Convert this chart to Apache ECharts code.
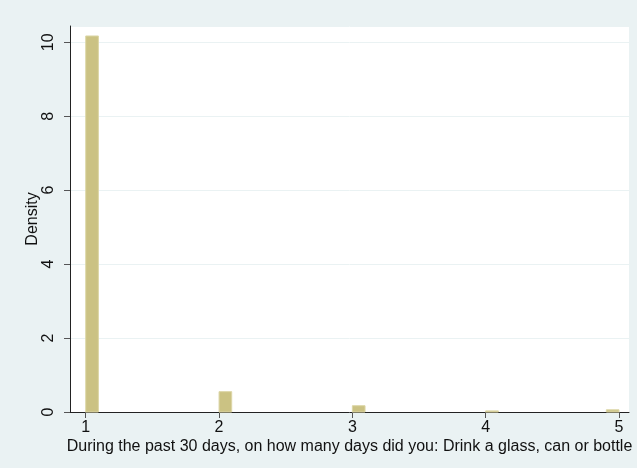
<!DOCTYPE html>
<html>
<head>
<meta charset="utf-8">
<script src="https://cdn.jsdelivr.net/npm/echarts@6/dist/echarts.min.js"></script>
<style>
  html, body { margin: 0; padding: 0; background: #eaf2f3; }
  #chart { width: 637px; height: 468px; }
</style>
</head>
<body>
<div id="chart"></div>
<script>
// histogram bins (left edge) and their density
const binStarts = [1, 2, 3, 4, 4.905]
const density = [10.17, 0.55, 0.17, 0.03, 0.06]
const binWidth = 0.095
const xTicks = [1, 2, 3, 4, 5]

const chart = echarts.init(document.getElementById('chart'))

const data = binStarts.map((x, i) => [x, density[i]])

const option = {
  backgroundColor: '#eaf2f3',
  textStyle: { fontFamily: 'Liberation Sans, Arial, sans-serif' },
  grid: {
    left: 70,
    right: 8,
    top: 26,
    bottom: 56,
    show: true,
    backgroundColor: '#ffffff',
    borderWidth: 0
  },
  xAxis: {
    type: 'value',
    min: 0.882,
    max: 5.075,
    name: 'During the past 30 days, on how many days did you: Drink a glass, can or bottle',
    nameLocation: 'middle',
    nameGap: 27,
    nameMoveOverlap: false,
    nameTextStyle: { fontSize: 16, color: '#111' },
    axisLine: { show: true, lineStyle: { color: '#222', width: 1 } },
    axisTick: { show: true, length: 6, customValues: xTicks, lineStyle: { color: '#555' } },
    axisLabel: { customValues: xTicks, fontSize: 16, color: '#111', margin: 8 },
    splitLine: { show: false }
  },
  yAxis: {
    type: 'value',
    min: 0,
    max: 10.44,
    interval: 2,
    name: 'Density',
    nameLocation: 'middle',
    nameGap: 29,
    nameMoveOverlap: false,
    nameRotate: 90,
    nameTextStyle: { fontSize: 16, color: '#111' },
    axisLine: { show: true, lineStyle: { color: '#222', width: 1 } },
    axisTick: { show: true, length: 6, lineStyle: { color: '#555' } },
    axisLabel: {
      rotate: 90,
      fontSize: 16,
      color: '#111',
      margin: 13,
      showMaxLabel: false
    },
    splitLine: { show: true, lineStyle: { color: '#eaf2f3', width: 1 } }
  },
  series: [
    {
      type: 'custom',
      data: data,
      renderItem: function (params, api) {
        const x0 = api.value(0)
        const y = api.value(1)
        const p1 = api.coord([x0, y])
        const p2 = api.coord([x0 + binWidth, 0])
        return {
          type: 'rect',
          shape: { x: p1[0], y: p1[1], width: p2[0] - p1[0], height: p2[1] - p1[1] },
          style: { fill: '#cbc283', stroke: '#dcd6a6', lineWidth: 1 }
        }
      },
      encode: { x: 0, y: 1 },
      z: 3
    }
  ]
}

chart.setOption(option)
</script>
</body>
</html>
